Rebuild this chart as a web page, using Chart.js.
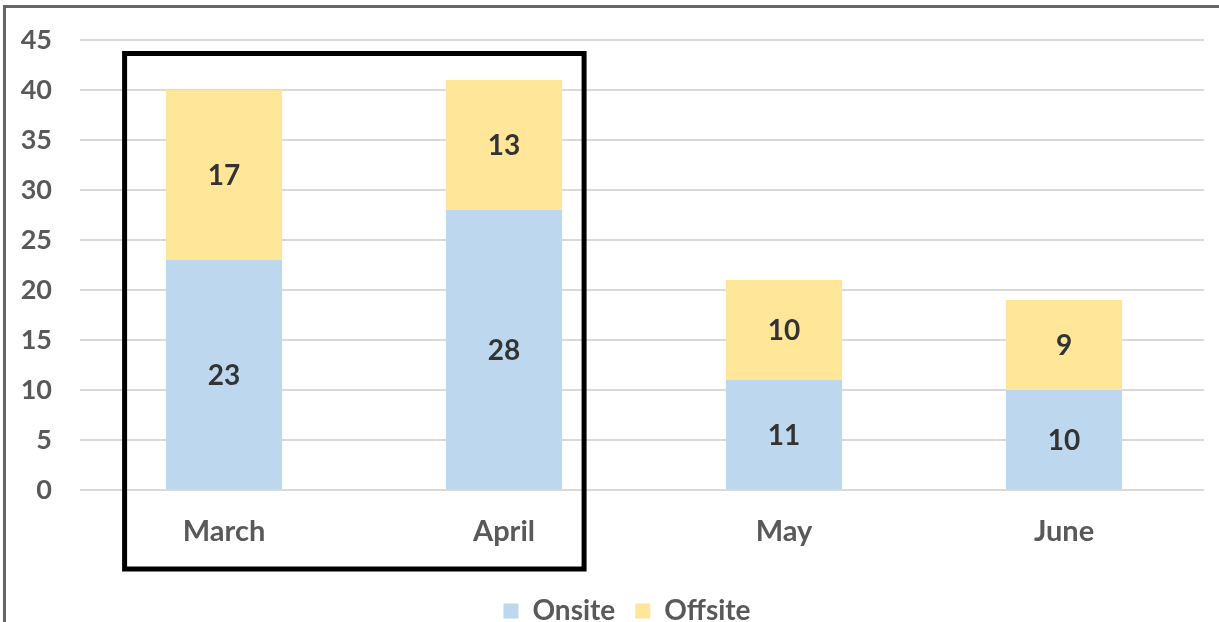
<!DOCTYPE html>
<html>
<head>
<meta charset="utf-8">
<script src="https://cdn.jsdelivr.net/npm/chart.js@4"></script>
<style>
  html, body { margin: 0; padding: 0; background: #fff; overflow: hidden; }
  #wrap { width: 1219px; height: 635px; position: relative; }
</style>
</head>
<body>
<div id="wrap"><canvas id="bar-chart"></canvas></div>
<script>
const months = ['March', 'April', 'May', 'June'];
const onsite = [23, 28, 11, 10];
const offsite = [17, 13, 10, 9];
const yTicks = [0, 5, 10, 15, 20, 25, 30, 35, 40, 45];
const highlighted = ['March', 'April'];

const FONT = 'Lato, "Open Sans", sans-serif';

// value labels in the middle of each segment
const valueLabels = {
    id: 'valueLabels',
    afterDatasetsDraw(chart) {
        const ctx = chart.ctx;
        ctx.save();
        ctx.font = 'bold 28px ' + FONT;
        ctx.fillStyle = '#333333';
        ctx.textAlign = 'center';
        ctx.textBaseline = 'middle';
        chart.data.datasets.forEach((ds, i) => {
            chart.getDatasetMeta(i).data.forEach((bar, j) => {
                const mid = (bar.y + bar.base) / 2;
                ctx.fillText(ds.data[j], bar.x, mid + 1);
            });
        });
        ctx.restore();
    }
};

// black box around the highlighted months, plus the outer frame
const frames = {
    id: 'frames',
    afterLayout(chart) {
        // legend sits a little right of centre in the original
        chart.legend.left += 25;
        chart.legend.right += 25;
    },
    afterDraw(chart) {
        const ctx = chart.ctx;
        const x = chart.scales.x, y = chart.scales.y;
        const step = x.getPixelForValue(1) - x.getPixelForValue(0);
        const first = months.indexOf(highlighted[0]);
        const last = months.indexOf(highlighted[highlighted.length - 1]);
        const left = x.getPixelForValue(first) - step * 0.355;
        const right = x.getPixelForValue(last) + step * 0.286;
        const top = y.getPixelForValue(43.65);
        const bottom = chart.chartArea.bottom + 79;
        ctx.save();
        ctx.strokeStyle = '#000';
        ctx.lineWidth = 5;
        ctx.strokeRect(left, top, right - left, bottom - top);

        ctx.strokeStyle = '#666';
        ctx.lineWidth = 3;
        ctx.beginPath();
        ctx.moveTo(4.5, chart.height + 10);
        ctx.lineTo(4.5, 6.5);
        ctx.lineTo(chart.width + 10, 6.5);
        ctx.stroke();
        ctx.restore();
    }
};

new Chart(document.getElementById('bar-chart').getContext('2d'), {
    type: 'bar',
    data: {
        labels: months,
        datasets: [{
            label: 'Onsite',
            data: onsite,
            backgroundColor: '#BDD7EE'
        }, {
            label: 'Offsite',
            data: offsite,
            backgroundColor: '#FFE699'
        }]
    },
    options: {
        responsive: true,
        maintainAspectRatio: false,
        animation: false,
        layout: { padding: { top: 40, right: 15, left: 0, bottom: 0 } },
        datasets: { bar: { barPercentage: 0.415, categoryPercentage: 1 } },
        scales: {
            x: {
                stacked: true,
                grid: { display: false, drawTicks: false },
                border: { display: false },
                ticks: { color: '#595959', padding: 24, font: { family: FONT, size: 29, weight: 'bold' } },
                afterFit: s => { s.height = 87; }
            },
            y: {
                stacked: true,
                min: 0,
                max: 45,
                afterBuildTicks: s => { s.ticks = yTicks.map(v => ({ value: v })); },
                grid: { color: '#D9D9D9', lineWidth: 2, tickLength: 4 },
                border: { display: false },
                ticks: { color: '#595959', padding: 28, font: { family: FONT, size: 27, weight: 'bold' } },
                afterFit: s => { s.width = 84; s.paddingTop = 0; s.paddingBottom = 0; }
            }
        },
        plugins: {
            legend: {
                position: 'bottom',
                labels: {
                    boxWidth: 15,
                    boxHeight: 15,
                    padding: 20,
                    color: '#595959',
                    font: { family: FONT, size: 28, weight: 'bold' }
                }
            },
            tooltip: { enabled: false }
        }
    },
    plugins: [valueLabels, frames]
});
</script>
</body>
</html>
